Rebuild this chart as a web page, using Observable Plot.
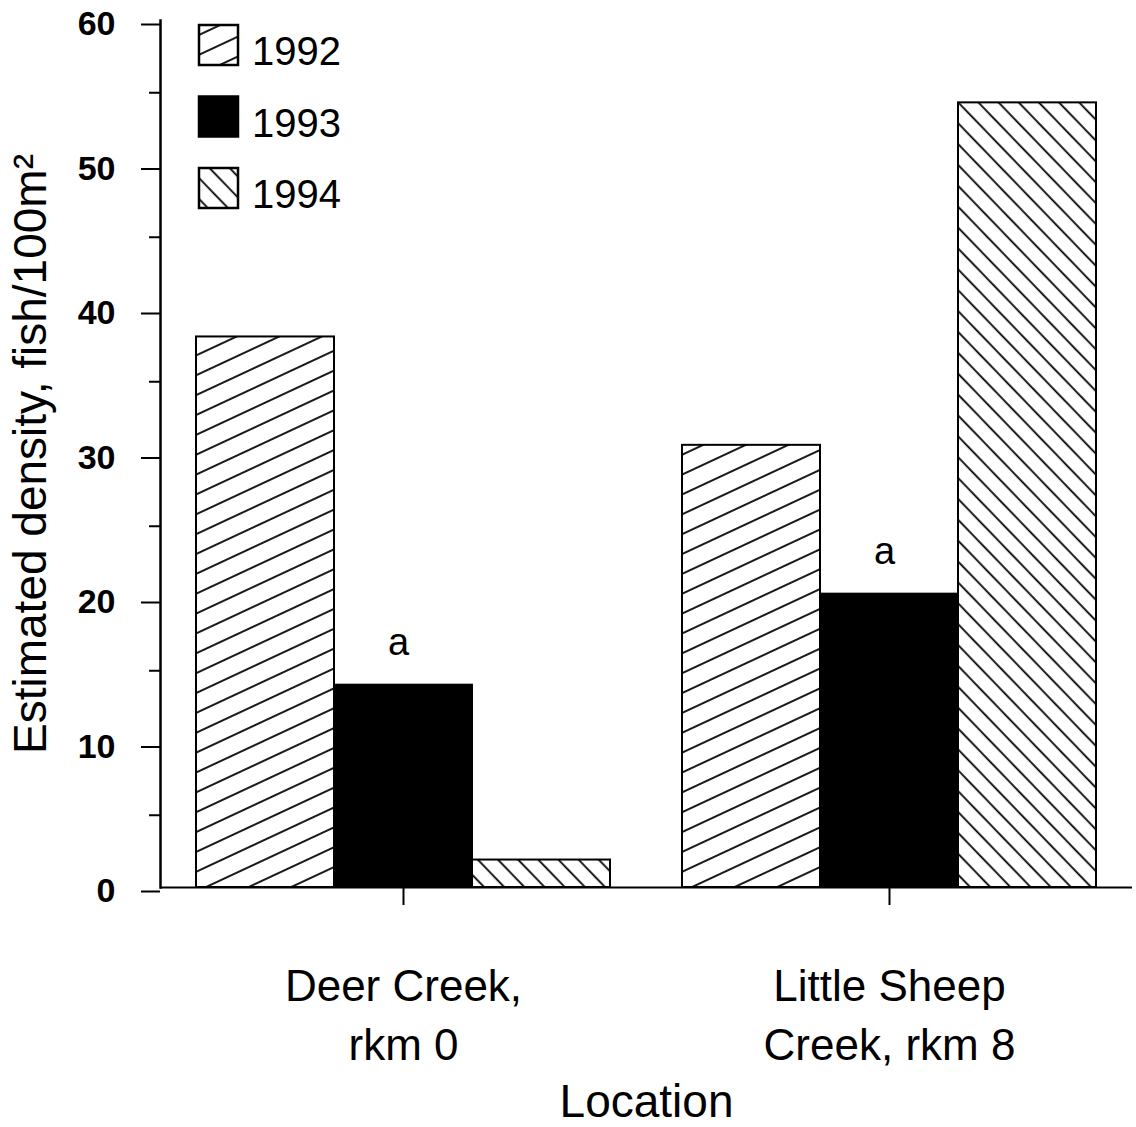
<!DOCTYPE html>
<html>
<head>
<meta charset="utf-8">
<script src="https://cdn.jsdelivr.net/npm/d3@7"></script>
<script src="https://cdn.jsdelivr.net/npm/@observablehq/plot@0.6"></script>
<style>
  html, body { margin: 0; padding: 0; background: white; }
  #wrap { position: relative; width: 1136px; height: 1127px; }
  #legend { position: absolute; left: 0; top: 0; }
  #defs { position: absolute; width: 0; height: 0; }
</style>
</head>
<body>
<svg id="defs" width="0" height="0">
  <defs>
    <pattern id="h1992" patternUnits="userSpaceOnUse" width="12" height="18" patternTransform="rotate(-25)">
      <rect width="12" height="18" fill="white"></rect>
      <line x1="-1" y1="9" x2="13" y2="9" stroke="black" stroke-width="1.8"></line>
    </pattern>
    <pattern id="h1993" patternUnits="userSpaceOnUse" width="10" height="10">
      <rect width="10" height="10" fill="black"></rect>
    </pattern>
    <pattern id="h1994" patternUnits="userSpaceOnUse" width="12" height="14.5" patternTransform="rotate(46)">
      <rect width="12" height="14.5" fill="white"></rect>
      <line x1="-1" y1="7" x2="13" y2="7" stroke="black" stroke-width="1.8"></line>
    </pattern>
  </defs>
</svg>
<div id="wrap"></div>
<script>
// ---- data ----
const locations = ["Deer Creek, rkm 0", "Little Sheep Creek, rkm 8"];
const locationLabels = ["Deer Creek,\nrkm 0", "Little Sheep\nCreek, rkm 8"];
const years = ["1992", "1993", "1994"];
const density1992 = [38.1, 30.6];
const density1993 = [14.0, 20.3];
const density1994 = [1.9, 54.3];
const notes1993 = ["a", "a"];
const majorTicks = [0, 10, 20, 30, 40, 50, 60];
const minorTicks = [5, 15, 25, 35, 45, 55];
const yLabel = "Estimated density, fish/100m²";
const xLabel = "Location";

const seriesByYear = {"1992": density1992, "1993": density1993, "1994": density1994};
const data = [];
years.forEach(yr => locations.forEach((loc, i) => {
  data.push({location: loc, year: yr, value: seriesByYear[yr][i], note: yr === "1993" ? notes1993[i] : null});
}));
const labelMap = new Map(locations.map((l, i) => [l, locationLabels[i]]));

const font = "Liberation Sans, Arial, Helvetica, sans-serif";

const barMarks = years.map(yr => Plot.barY(data.filter(d => d.year === yr), {
  fx: "location", x: "year", y: "value",
  fill: `url(#h${yr})`, stroke: "black", strokeWidth: 2
}));

const chart = Plot.plot({
  width: 1136,
  height: 1127,
  marginLeft: 160,
  marginRight: 4,
  marginTop: 20,
  marginBottom: 240,
  style: {fontFamily: font, background: "white", color: "black", overflow: "visible"},
  fx: {domain: locations, padding: 0, label: null, axis: null},
  x: {domain: years, paddingInner: 0, paddingOuter: 0.26, axis: null},
  y: {domain: [0, 60], axis: null},
  marks: [
    ...barMarks,
    Plot.text(data.filter(d => d.note), {
      fx: "location", x: "year", y: "value", text: "note",
      dy: -30, dx: -5, lineAnchor: "bottom", fontSize: 38, fill: "black"
    }),
    Plot.ruleY([0], {stroke: "black", strokeWidth: 2}),
    Plot.frame({anchor: "left", facetAnchor: "left", stroke: "black", strokeWidth: 2.5}),
    Plot.axisY({ticks: majorTicks, tickSize: 19, tickPadding: 26, fontSize: 34, fontWeight: "bold",
      strokeWidth: 2, dy: 4, label: null}),
    Plot.axisY({ticks: minorTicks, tickSize: 11, strokeWidth: 2, tickFormat: () => "", label: null}),
    Plot.axisY({ticks: [], tickSize: 0, fontSize: 46, label: yLabel, labelAnchor: "center",
      labelOffset: 147, labelArrow: "none", dx: -10}),
    Plot.axisFx({anchor: "bottom", tickSize: 18, tickPadding: 54, fontSize: 44, lineHeight: 1.34, strokeWidth: 2,
      tickFormat: d => labelMap.get(d), label: null}),
    Plot.axisFx({anchor: "bottom", ticks: [], tickSize: 0, fontSize: 46, label: xLabel, labelAnchor: "center",
      labelOffset: 229, labelArrow: "none"})
  ]
});

const wrap = document.getElementById("wrap");
wrap.appendChild(chart);

// ---- legend (inside the plot frame, top-left) ----
const legend = d3.select(wrap).append("svg")
  .attr("id", "legend")
  .attr("width", 400).attr("height", 230)
  .style("font-family", font);
const g = legend.selectAll("g").data(years).join("g")
  .attr("transform", (d, i) => `translate(199, ${25 + i * 71.5})`);
g.append("rect")
  .attr("width", 39).attr("height", 40)
  .attr("fill", d => `url(#h${d})`)
  .attr("stroke", "black").attr("stroke-width", 2.5);
g.append("text")
  .attr("x", 53).attr("y", 40)
  .attr("font-size", 40)
  .attr("fill", "black")
  .text(d => d);
</script>
</body>
</html>
